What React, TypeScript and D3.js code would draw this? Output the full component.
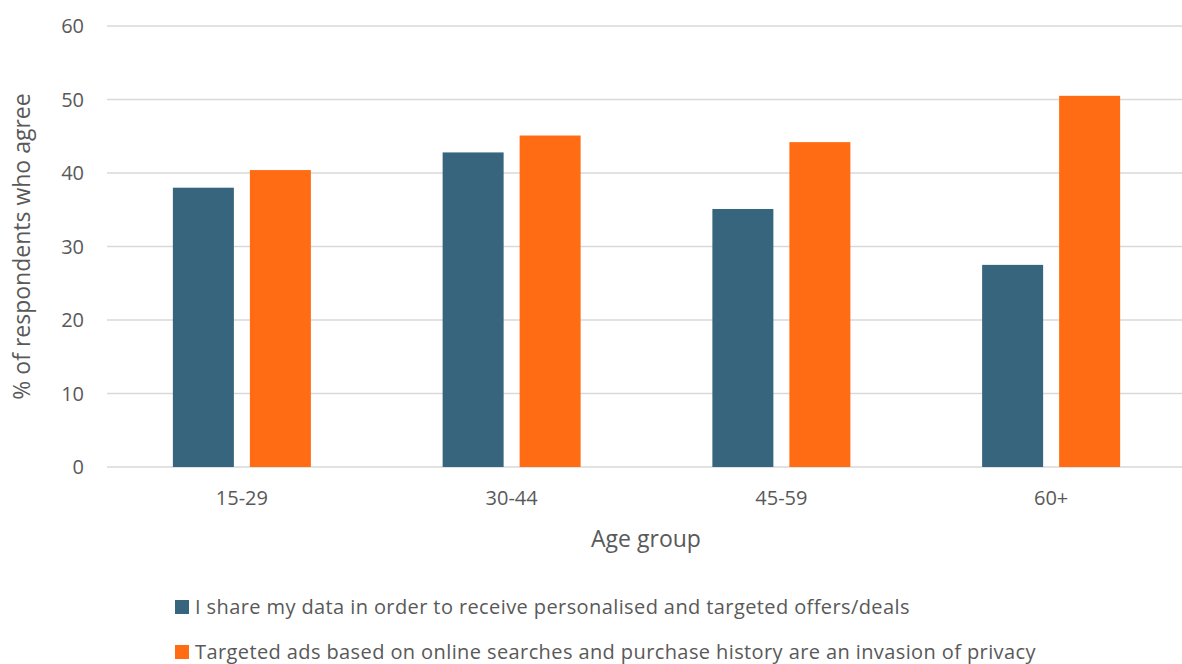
import React from "react";
import * as d3 from "d3";

const categories = ["15-29", "30-44", "45-59", "60+"];
const shareData = [38, 42.8, 35.1, 27.5];
const invasionPrivacy = [40.4, 45.1, 44.2, 50.5];
const seriesNames = [
  "I share my data in order to receive personalised and targeted offers/deals",
  "Targeted ads based on online searches and purchase history are an invasion of privacy",
];
const yTicks = [0, 10, 20, 30, 40, 50, 60];
const colors = ["#36657d", "#ff6c14"];

export default function App() {
  const W = 1182, H = 664;
  const left = 107, right = 1186, top = 26, bottom = 467;
  const x = d3.scaleBand<string>().domain(categories).range([left, right]);
  const y = d3.scaleLinear().domain([0, 60]).range([bottom, top]);
  const barW = 61, gap = 16;
  const series = [shareData, invasionPrivacy];
  const font = "'Open Sans', 'Liberation Sans', sans-serif";
  const txt = "#595959";
  return (
    <svg width={W} height={H} style={{ position: "absolute", left: 0, top: 0, background: "#fff" }} fontFamily={font}>
      {yTicks.map((t) => (
        <g key={t}>
          <line x1={left} x2={W} y1={y(t)} y2={y(t)} stroke="#d9d9d9" strokeWidth={1.5} />
          <text x={84} y={y(t)} dy="0.35em" textAnchor="end" fontSize={20} fill={txt}>{t}</text>
        </g>
      ))}
      {categories.map((c, i) => {
        const cx = (x(c) as number) + x.bandwidth() / 2;
        const groupW = barW * 2 + gap;
        return (
          <g key={c}>
            {series.map((s, j) => (
              <rect key={j} x={cx - groupW / 2 + j * (barW + gap)} y={y(s[i])} width={barW} height={y(0) - y(s[i])} fill={colors[j]} />
            ))}
            <text x={cx} y={505} textAnchor="middle" fontSize={20} fill={txt}>{c}</text>
          </g>
        );
      })}
      <text x={646} y={547} textAnchor="middle" fontSize={23} fill={txt}>Age group</text>
      <text transform={`translate(30, ${(top + bottom) / 2}) rotate(-90)`} textAnchor="middle" fontSize={23} fill={txt}>% of respondents who agree</text>
      {seriesNames.map((n, j) => (
        <g key={n}>
          <rect x={175} y={600 + j * 45} width={14} height={14} fill={colors[j]} />
          <text x={195} y={614 + j * 45} fontSize={20} letterSpacing={0.4} fill={txt}>{n}</text>
        </g>
      ))}
    </svg>
  );
}
